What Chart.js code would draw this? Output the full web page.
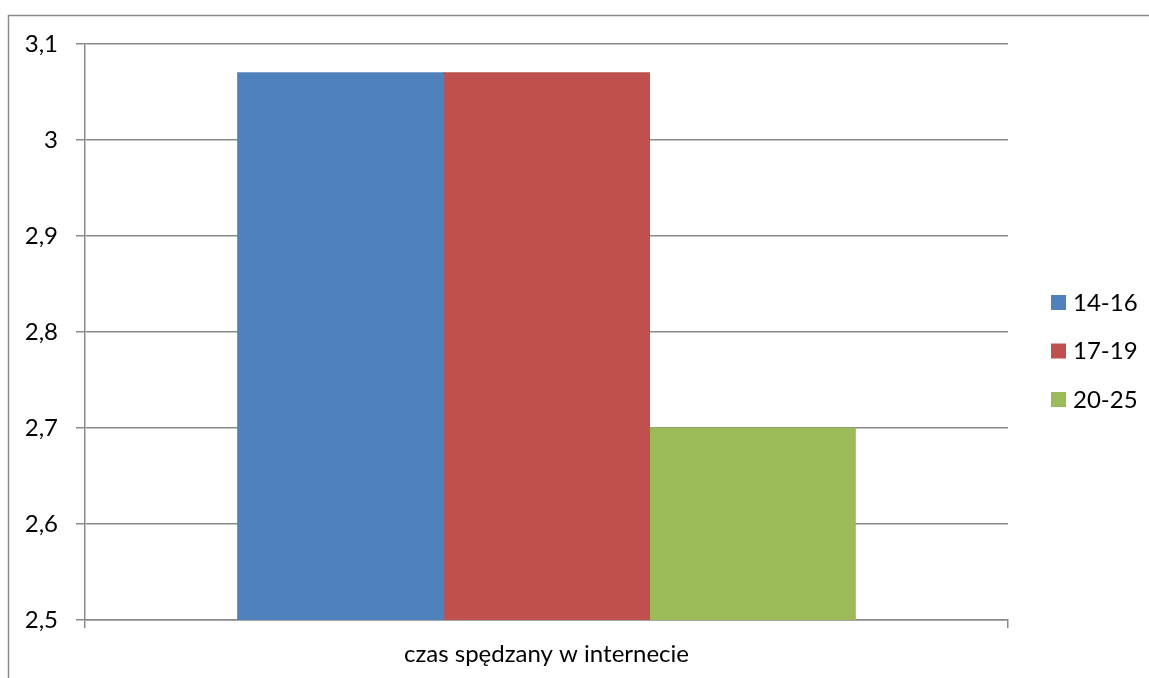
<!DOCTYPE html>
<html>
<head>
<meta charset="utf-8">
<script src="https://cdn.jsdelivr.net/npm/chart.js@4"></script>
<style>
  html, body { margin: 0; padding: 0; background: #fff; }
  #wrap { width: 1149px; height: 678px; }
</style>
</head>
<body>
<div id="wrap"><canvas id="chart"></canvas></div>
<script>
const categories = ["czas spędzany w internecie"];
const groups = ["14-16", "17-19", "20-25"];
const values = [3.07, 3.07, 2.70];
const colors = ["#4F81BD", "#C0504D", "#9BBB59"];
const yTicks = [2.5, 2.6, 2.7, 2.8, 2.9, 3.0, 3.1];

const FONT = "Lato, 'Liberation Sans', sans-serif";
const SIZE = 24;
const GRID = "#8a8a8a";

// frame round the whole chart, cut off at the right and bottom
const frame = {
  id: "frame",
  beforeDraw(chart) {
    const ctx = chart.ctx;
    ctx.save();
    ctx.strokeStyle = GRID;
    ctx.lineWidth = 1.5;
    ctx.strokeRect(8.5, 15.5, 1300, 800);
    ctx.restore();
  }
};

// legend on the right: small squares with labels
const sideLegend = {
  id: "sideLegend",
  afterDraw(chart) {
    const ctx = chart.ctx;
    ctx.save();
    ctx.font = SIZE + "px " + FONT;
    ctx.textBaseline = "middle";
    chart.data.datasets.forEach((ds, i) => {
      const cy = 302 + i * 48.5;
      ctx.fillStyle = ds.backgroundColor;
      ctx.fillRect(1051, cy - 7, 15, 15);
      ctx.fillStyle = "#000";
      ctx.fillText(ds.label, 1073, cy + 1);
    });
    ctx.restore();
  }
};

new Chart(document.getElementById("chart"), {
  type: "bar",
  data: {
    labels: categories,
    datasets: groups.map((g, i) => ({
      label: g,
      data: [values[i]],
      backgroundColor: colors[i],
      borderWidth: 0,
      inflateAmount: 0.6,
      categoryPercentage: 0.669,
      barPercentage: 1
    }))
  },
  options: {
    responsive: true,
    maintainAspectRatio: false,
    animation: false,
    layout: { padding: { left: 0, top: 44, right: 141, bottom: 0 } },
    plugins: { legend: { display: false }, tooltip: { enabled: false } },
    scales: {
      x: {
        afterFit: s => { s.height = 58; },
        grid: { drawOnChartArea: false, drawTicks: true, tickLength: 8, color: GRID, lineWidth: 1.5 },
        border: { color: GRID, width: 1.5 },
        ticks: { color: "#000", font: { size: SIZE, family: FONT }, padding: 12 }
      },
      y: {
        min: 2.5,
        max: 3.1,
        afterFit: s => { s.width = 85; },
        afterBuildTicks: s => { s.ticks = yTicks.map(v => ({ value: v })); },
        grid: { color: GRID, lineWidth: 1.5, tickLength: 9 },
        border: { color: GRID, width: 1.5 },
        ticks: {
          color: "#000",
          font: { size: SIZE, family: FONT },
          padding: 18,
          callback: v => String(Math.round(v * 10) / 10).replace(".", ",")
        }
      }
    }
  },
  plugins: [frame, sideLegend]
});
</script>
</body>
</html>
